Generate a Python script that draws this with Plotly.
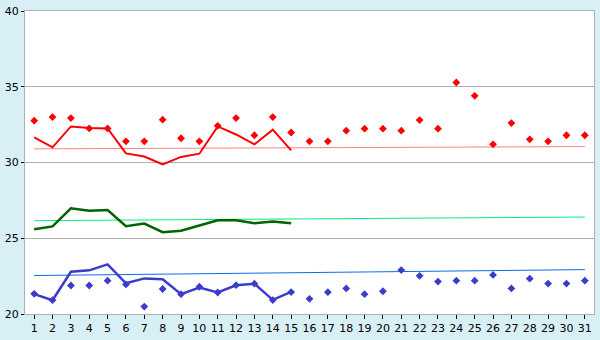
import plotly.graph_objects as go

days = list(range(1, 32))

red_pts = [32.76, 33.0, 32.93, 32.25, 32.25, 31.4, 31.4, 32.83, 31.6, 31.4,
           32.42, 32.93, 31.8, 33.0, 31.98, 31.4, 31.4, 32.1, 32.23, 32.23,
           32.1, 32.8, 32.23, 35.28, 34.4, 31.2, 32.6, 31.53, 31.4, 31.8, 31.8]
red_line = [31.66, 31.0, 32.38, 32.27, 32.25, 30.6, 30.39, 29.88, 30.37, 30.58,
            32.38, 31.85, 31.2, 32.17, 30.8]
red_trend = [30.9, 31.05]

green_line = [25.6, 25.78, 26.98, 26.81, 26.86, 25.8, 25.97, 25.4, 25.5, 25.86,
              26.18, 26.18, 25.99, 26.1, 25.99]
green_trend = [26.16, 26.4]

blue_pts = [21.33, 20.91, 21.88, 21.88, 22.2, 21.95, 20.49, 21.65, 21.31, 21.8,
            21.42, 21.9, 22.0, 20.92, 21.45, 21.0, 21.44, 21.69, 21.31, 21.5,
            22.9, 22.52, 22.14, 22.2, 22.2, 22.58, 21.69, 22.33, 22.01, 22.01, 22.2]
blue_line = [21.31, 20.91, 22.79, 22.88, 23.28, 22.03, 22.35, 22.29, 21.31, 21.75,
             21.42, 21.9, 22.0, 20.93, 21.46]
blue_trend = [22.54, 22.93]

trend_x = [1, 31]
line_x = days[:15]

fig = go.Figure()
fig.add_trace(go.Scatter(x=trend_x, y=red_trend, mode="lines",
                         line=dict(color="#ff8080", width=1)))
fig.add_trace(go.Scatter(x=trend_x, y=green_trend, mode="lines",
                         line=dict(color="#00ee80", width=1)))
fig.add_trace(go.Scatter(x=trend_x, y=blue_trend, mode="lines",
                         line=dict(color="#0a6cf0", width=1)))
fig.add_trace(go.Scatter(x=line_x, y=red_line, mode="lines",
                         line=dict(color="#ff0000", width=2)))
fig.add_trace(go.Scatter(x=line_x, y=green_line, mode="lines",
                         line=dict(color="#006400", width=2.5)))
fig.add_trace(go.Scatter(x=line_x, y=blue_line, mode="lines",
                         line=dict(color="#3b3bcc", width=2.5)))
fig.add_trace(go.Scatter(x=days, y=red_pts, mode="markers",
                         marker=dict(color="#ff0000", symbol="diamond", size=6)))
fig.add_trace(go.Scatter(x=days, y=blue_pts, mode="markers",
                         marker=dict(color="#3b3bcc", symbol="diamond", size=6)))

fig.update_layout(
    width=600, height=340,
    margin=dict(l=21, r=5, t=5, b=20),
    paper_bgcolor="#d9eff6",
    plot_bgcolor="#ffffff",
    showlegend=False,
    font=dict(family="DejaVu Sans", size=11, color="#000000"),
    xaxis=dict(range=[0.5, 31.5], tickmode="array", tickvals=days,
               ticktext=[str(d) for d in days], ticks="outside", ticklen=4,
               tickcolor="#000000", showgrid=False, zeroline=False,
               showline=True, linecolor="#b0b0b0", mirror=True,
               ticklabeloverflow="allow", fixedrange=True),
    yaxis=dict(range=[20, 40], tickvals=[20, 25, 30, 35, 40], ticks="outside",
               ticklen=3, tickcolor="#000000", showgrid=True,
               gridcolor="#b0b0b0", gridwidth=1, zeroline=False,
               showline=True, linecolor="#b0b0b0", mirror=True,
               ticklabeloverflow="allow", fixedrange=True),
)

fig.write_html("out.html", config={"displayModeBar": False})
